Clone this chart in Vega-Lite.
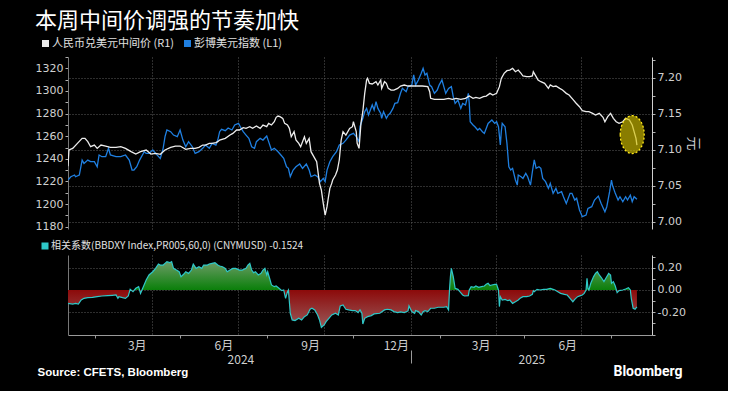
{
  "$schema": "https://vega.github.io/schema/vega-lite/v6.json",
  "background": "#000000",
  "padding": {"left": 35, "top": 10, "right": 28, "bottom": 13},
  "title": {"text": "本周中间价调强的节奏加快", "anchor": "start", "font": "Noto Sans CJK SC", "fontSize": 22, "fontWeight": "normal", "color": "#ffffff", "offset": 5},
  "config": {
    "view": {"stroke": null},
    "axis": {"labelFont": "DejaVu Sans", "labelFontSize": 11, "labelColor": "#d0d0d0", "tickColor": "#b0b0b0", "domainColor": "#8a8a8a", "labelOverlap": false, "labelFlush": false},
    "legend": {"orient": "none", "direction": "horizontal", "symbolType": "square", "symbolSize": 9, "symbolStrokeWidth": 4, "labelFont": "Noto Sans CJK SC", "labelFontSize": 11, "labelColor": "#e0e0e0", "labelOffset": 1, "labelLimit": 500, "columnPadding": 4, "padding": 0, "title": null}
  },
  "datasets": {
    "usd": [
      {"d":"2024-01-03","v":1221.3},{"d":"2024-01-06","v":1224.2},{"d":"2024-01-10","v":1225.7},{"d":"2024-01-11","v":1224.2},{"d":"2024-01-15","v":1225.7},{"d":"2024-01-18","v":1238.9},{"d":"2024-01-20","v":1236.0},{"d":"2024-01-24","v":1238.9},{"d":"2024-01-27","v":1237.5},{"d":"2024-01-31","v":1237.5},
      {"d":"2024-02-03","v":1233.0},{"d":"2024-02-05","v":1243.4},{"d":"2024-02-08","v":1241.9},{"d":"2024-02-12","v":1241.9},{"d":"2024-02-15","v":1249.3},{"d":"2024-02-17","v":1243.4},{"d":"2024-02-23","v":1241.9},{"d":"2024-02-28","v":1241.9},
      {"d":"2024-03-04","v":1243.4},{"d":"2024-03-08","v":1238.9},{"d":"2024-03-11","v":1230.1},{"d":"2024-03-13","v":1230.1},{"d":"2024-03-16","v":1233.0},{"d":"2024-03-19","v":1238.9},{"d":"2024-03-22","v":1243.4},{"d":"2024-03-24","v":1246.3},{"d":"2024-03-26","v":1244.8},{"d":"2024-03-29","v":1244.8},
      {"d":"2024-04-02","v":1247.8},{"d":"2024-04-05","v":1244.8},{"d":"2024-04-10","v":1240.4},{"d":"2024-04-13","v":1249.3},{"d":"2024-04-15","v":1259.6},{"d":"2024-04-17","v":1265.5},{"d":"2024-04-21","v":1264.0},{"d":"2024-04-24","v":1261.0},{"d":"2024-04-28","v":1259.6},
      {"d":"2024-05-01","v":1265.5},{"d":"2024-05-04","v":1256.6},{"d":"2024-05-07","v":1250.7},{"d":"2024-05-10","v":1255.2},{"d":"2024-05-14","v":1250.7},{"d":"2024-05-17","v":1244.8},{"d":"2024-05-21","v":1246.3},{"d":"2024-05-25","v":1249.3},{"d":"2024-05-28","v":1252.2},
      {"d":"2024-06-01","v":1249.3},{"d":"2024-06-04","v":1253.7},{"d":"2024-06-08","v":1252.2},{"d":"2024-06-10","v":1256.6},{"d":"2024-06-12","v":1264.0},{"d":"2024-06-14","v":1266.1},{"d":"2024-06-18","v":1264.9},{"d":"2024-06-21","v":1267.3},{"d":"2024-06-25","v":1265.5},{"d":"2024-06-28","v":1269.9},
      {"d":"2024-07-02","v":1271.3},{"d":"2024-07-04","v":1268.4},{"d":"2024-07-07","v":1264.0},{"d":"2024-07-10","v":1261.0},{"d":"2024-07-13","v":1258.1},{"d":"2024-07-16","v":1250.7},{"d":"2024-07-19","v":1249.3},{"d":"2024-07-21","v":1255.2},{"d":"2024-07-25","v":1258.1},{"d":"2024-07-28","v":1256.6},
      {"d":"2024-08-01","v":1260.2},{"d":"2024-08-03","v":1255.2},{"d":"2024-08-06","v":1247.8},{"d":"2024-08-09","v":1249.3},{"d":"2024-08-13","v":1246.3},{"d":"2024-08-16","v":1243.4},{"d":"2024-08-19","v":1240.4},{"d":"2024-08-22","v":1233.0},{"d":"2024-08-24","v":1231.6},{"d":"2024-08-26","v":1224.2},{"d":"2024-08-29","v":1230.1},
      {"d":"2024-09-01","v":1233.0},{"d":"2024-09-05","v":1235.4},{"d":"2024-09-08","v":1231.6},{"d":"2024-09-12","v":1235.4},{"d":"2024-09-15","v":1230.1},{"d":"2024-09-17","v":1224.2},{"d":"2024-09-21","v":1225.7},{"d":"2024-09-24","v":1224.2},{"d":"2024-09-27","v":1219.8},{"d":"2024-09-30","v":1222.7},
      {"d":"2024-10-02","v":1219.8},{"d":"2024-10-04","v":1230.1},{"d":"2024-10-07","v":1237.5},{"d":"2024-10-10","v":1241.9},{"d":"2024-10-14","v":1246.3},{"d":"2024-10-17","v":1252.2},{"d":"2024-10-21","v":1253.7},{"d":"2024-10-24","v":1256.6},{"d":"2024-10-28","v":1261.0},
      {"d":"2024-11-01","v":1262.5},{"d":"2024-11-04","v":1259.6},{"d":"2024-11-05","v":1258.1},{"d":"2024-11-07","v":1255.2},{"d":"2024-11-08","v":1268.4},{"d":"2024-11-11","v":1275.8},{"d":"2024-11-13","v":1281.7},{"d":"2024-11-15","v":1284.6},{"d":"2024-11-17","v":1278.7},{"d":"2024-11-19","v":1283.1},{"d":"2024-11-21","v":1287.6},{"d":"2024-11-23","v":1283.1},{"d":"2024-11-25","v":1290.5},{"d":"2024-11-27","v":1284.6},{"d":"2024-11-30","v":1280.2},
      {"d":"2024-12-01","v":1275.8},{"d":"2024-12-03","v":1281.7},{"d":"2024-12-06","v":1275.8},{"d":"2024-12-08","v":1278.7},{"d":"2024-12-10","v":1280.2},{"d":"2024-12-13","v":1284.6},{"d":"2024-12-15","v":1289.0},{"d":"2024-12-18","v":1289.6},{"d":"2024-12-21","v":1297.9},{"d":"2024-12-23","v":1302.3},{"d":"2024-12-27","v":1299.3},{"d":"2024-12-29","v":1303.8},
      {"d":"2025-01-02","v":1305.2},{"d":"2025-01-04","v":1314.1},{"d":"2025-01-06","v":1305.2},{"d":"2025-01-09","v":1309.7},{"d":"2025-01-12","v":1315.6},{"d":"2025-01-14","v":1320.0},{"d":"2025-01-16","v":1314.1},{"d":"2025-01-18","v":1315.6},{"d":"2025-01-21","v":1305.2},{"d":"2025-01-23","v":1303.8},{"d":"2025-01-26","v":1297.9},{"d":"2025-01-29","v":1300.8},{"d":"2025-01-31","v":1305.2},
      {"d":"2025-02-03","v":1309.7},{"d":"2025-02-05","v":1303.8},{"d":"2025-02-07","v":1297.9},{"d":"2025-02-10","v":1302.3},{"d":"2025-02-13","v":1303.8},{"d":"2025-02-15","v":1294.9},{"d":"2025-02-17","v":1289.0},{"d":"2025-02-20","v":1292.0},{"d":"2025-02-23","v":1284.6},{"d":"2025-02-25","v":1289.0},{"d":"2025-02-28","v":1287.6},
      {"d":"2025-03-03","v":1297.9},{"d":"2025-03-04","v":1289.0},{"d":"2025-03-05","v":1272.8},{"d":"2025-03-08","v":1269.9},{"d":"2025-03-10","v":1268.4},{"d":"2025-03-13","v":1265.5},{"d":"2025-03-15","v":1266.9},{"d":"2025-03-18","v":1264.0},{"d":"2025-03-20","v":1262.5},{"d":"2025-03-22","v":1266.9},{"d":"2025-03-24","v":1271.3},{"d":"2025-03-28","v":1274.3},{"d":"2025-03-31","v":1271.3},
      {"d":"2025-04-02","v":1272.8},{"d":"2025-04-04","v":1268.4},{"d":"2025-04-06","v":1252.2},{"d":"2025-04-07","v":1264.0},{"d":"2025-04-08","v":1271.3},{"d":"2025-04-11","v":1268.4},{"d":"2025-04-13","v":1253.7},{"d":"2025-04-15","v":1233.0},{"d":"2025-04-17","v":1230.1},{"d":"2025-04-19","v":1231.6},{"d":"2025-04-22","v":1221.3},{"d":"2025-04-24","v":1216.8},{"d":"2025-04-25","v":1225.7},{"d":"2025-04-28","v":1224.2},{"d":"2025-04-30","v":1222.7},
      {"d":"2025-05-03","v":1227.2},{"d":"2025-05-05","v":1224.2},{"d":"2025-05-08","v":1216.8},{"d":"2025-05-10","v":1228.6},{"d":"2025-05-12","v":1239.0},{"d":"2025-05-14","v":1231.6},{"d":"2025-05-17","v":1233.0},{"d":"2025-05-19","v":1231.6},{"d":"2025-05-21","v":1222.7},{"d":"2025-05-24","v":1219.8},{"d":"2025-05-27","v":1213.9},{"d":"2025-05-29","v":1218.3},
      {"d":"2025-06-01","v":1209.5},{"d":"2025-06-04","v":1213.9},{"d":"2025-06-06","v":1209.5},{"d":"2025-06-10","v":1211.0},{"d":"2025-06-12","v":1206.5},{"d":"2025-06-15","v":1200.6},{"d":"2025-06-19","v":1209.5},{"d":"2025-06-21","v":1209.5},{"d":"2025-06-24","v":1203.6},{"d":"2025-06-26","v":1205.1},{"d":"2025-06-29","v":1194.8},
      {"d":"2025-07-02","v":1188.9},{"d":"2025-07-06","v":1190.3},{"d":"2025-07-08","v":1196.2},{"d":"2025-07-12","v":1197.7},{"d":"2025-07-15","v":1203.6},{"d":"2025-07-19","v":1207.1},{"d":"2025-07-22","v":1200.6},{"d":"2025-07-26","v":1193.3},{"d":"2025-07-28","v":1197.7},{"d":"2025-07-31","v":1211.0},
      {"d":"2025-08-02","v":1221.3},{"d":"2025-08-03","v":1216.8},{"d":"2025-08-06","v":1209.5},{"d":"2025-08-09","v":1203.6},{"d":"2025-08-11","v":1206.5},{"d":"2025-08-14","v":1202.1},{"d":"2025-08-17","v":1206.5},{"d":"2025-08-19","v":1203.6},{"d":"2025-08-22","v":1208.0},{"d":"2025-08-24","v":1202.1},{"d":"2025-08-26","v":1206.5},{"d":"2025-08-29","v":1204.2}
    ],
    "cny": [
      {"d":"2024-01-03","v":7.0770},{"d":"2024-01-04","v":7.0996},{"d":"2024-01-08","v":7.1019},{"d":"2024-01-13","v":7.1089},{"d":"2024-01-18","v":7.1158},{"d":"2024-01-21","v":7.1158},{"d":"2024-01-24","v":7.1112},{"d":"2024-01-27","v":7.1042},{"d":"2024-01-31","v":7.1065},
      {"d":"2024-02-03","v":7.1019},{"d":"2024-02-07","v":7.1065},{"d":"2024-02-12","v":7.1051},{"d":"2024-02-17","v":7.1033},{"d":"2024-02-23","v":7.1033},{"d":"2024-02-28","v":7.1042},
      {"d":"2024-03-04","v":7.1019},{"d":"2024-03-10","v":7.0973},{"d":"2024-03-15","v":7.0940},{"d":"2024-03-20","v":7.0973},{"d":"2024-03-26","v":7.0996},{"d":"2024-03-31","v":7.0940},
      {"d":"2024-04-05","v":7.0950},{"d":"2024-04-10","v":7.0936},{"d":"2024-04-15","v":7.0996},{"d":"2024-04-21","v":7.1033},{"d":"2024-04-26","v":7.1051},
      {"d":"2024-05-01","v":7.1051},{"d":"2024-05-07","v":7.1005},{"d":"2024-05-12","v":7.1019},{"d":"2024-05-17","v":7.1019},{"d":"2024-05-21","v":7.1033},{"d":"2024-05-25","v":7.1065},{"d":"2024-05-28","v":7.1065},
      {"d":"2024-06-01","v":7.1089},{"d":"2024-06-04","v":7.1089},{"d":"2024-06-08","v":7.1098},{"d":"2024-06-10","v":7.1112},{"d":"2024-06-12","v":7.1135},{"d":"2024-06-18","v":7.1158},{"d":"2024-06-23","v":7.1204},{"d":"2024-06-26","v":7.1227},{"d":"2024-06-30","v":7.1274},
      {"d":"2024-07-03","v":7.1274},{"d":"2024-07-07","v":7.1306},{"d":"2024-07-10","v":7.1297},{"d":"2024-07-14","v":7.1320},{"d":"2024-07-17","v":7.1297},{"d":"2024-07-21","v":7.1329},{"d":"2024-07-25","v":7.1297},{"d":"2024-07-28","v":7.1343},
      {"d":"2024-08-01","v":7.1320},{"d":"2024-08-03","v":7.1366},{"d":"2024-08-06","v":7.1343},{"d":"2024-08-09","v":7.1389},{"d":"2024-08-11","v":7.1450},{"d":"2024-08-13","v":7.1468},{"d":"2024-08-15","v":7.1459},{"d":"2024-08-18","v":7.1436},{"d":"2024-08-20","v":7.1366},{"d":"2024-08-23","v":7.1343},{"d":"2024-08-25","v":7.1297},{"d":"2024-08-27","v":7.1181},{"d":"2024-08-30","v":7.1251},
      {"d":"2024-09-01","v":7.1135},{"d":"2024-09-04","v":7.1089},{"d":"2024-09-06","v":7.1042},{"d":"2024-09-10","v":7.1181},{"d":"2024-09-12","v":7.1089},{"d":"2024-09-15","v":7.1158},{"d":"2024-09-17","v":7.0973},{"d":"2024-09-21","v":7.0880},{"d":"2024-09-23","v":7.0834},{"d":"2024-09-26","v":7.0533},{"d":"2024-09-28","v":7.0440},{"d":"2024-09-30","v":7.0255},
      {"d":"2024-10-02","v":7.0093},{"d":"2024-10-04","v":7.0209},{"d":"2024-10-05","v":7.0301},{"d":"2024-10-07","v":7.0463},{"d":"2024-10-09","v":7.0533},{"d":"2024-10-10","v":7.0579},{"d":"2024-10-13","v":7.0649},{"d":"2024-10-15","v":7.0718},{"d":"2024-10-17","v":7.0857},{"d":"2024-10-19","v":7.1135},{"d":"2024-10-21","v":7.1251},{"d":"2024-10-24","v":7.1204},{"d":"2024-10-28","v":7.1297},{"d":"2024-10-31","v":7.1320},
      {"d":"2024-11-01","v":7.1389},{"d":"2024-11-04","v":7.1251},{"d":"2024-11-05","v":7.1089},{"d":"2024-11-07","v":7.1019},{"d":"2024-11-09","v":7.1366},{"d":"2024-11-11","v":7.1528},{"d":"2024-11-13","v":7.1783},{"d":"2024-11-15","v":7.1968},{"d":"2024-11-16","v":7.1991},{"d":"2024-11-18","v":7.1922},{"d":"2024-11-21","v":7.1913},{"d":"2024-11-25","v":7.1945},{"d":"2024-11-27","v":7.1899},{"d":"2024-11-30","v":7.1968},
      {"d":"2024-12-01","v":7.1852},{"d":"2024-12-04","v":7.1945},{"d":"2024-12-06","v":7.1922},{"d":"2024-12-08","v":7.1852},{"d":"2024-12-11","v":7.1829},{"d":"2024-12-14","v":7.1829},{"d":"2024-12-18","v":7.1852},{"d":"2024-12-21","v":7.1885},{"d":"2024-12-25","v":7.1899},{"d":"2024-12-29","v":7.1885},
      {"d":"2025-01-03","v":7.1885},{"d":"2025-01-08","v":7.1885},{"d":"2025-01-13","v":7.1885},{"d":"2025-01-19","v":7.1876},{"d":"2025-01-21","v":7.1806},{"d":"2025-01-22","v":7.1714},{"d":"2025-01-26","v":7.1700},{"d":"2025-01-31","v":7.1700},
      {"d":"2025-02-05","v":7.1700},{"d":"2025-02-10","v":7.1714},{"d":"2025-02-14","v":7.1700},{"d":"2025-02-18","v":7.1714},{"d":"2025-02-23","v":7.1700},{"d":"2025-02-28","v":7.1714},
      {"d":"2025-03-04","v":7.1746},{"d":"2025-03-08","v":7.1714},{"d":"2025-03-11","v":7.1727},{"d":"2025-03-15","v":7.1714},{"d":"2025-03-19","v":7.1737},{"d":"2025-03-22","v":7.1746},{"d":"2025-03-26","v":7.1783},{"d":"2025-03-29","v":7.1760},
      {"d":"2025-04-02","v":7.1783},{"d":"2025-04-05","v":7.1876},{"d":"2025-04-07","v":7.1991},{"d":"2025-04-10","v":7.2061},{"d":"2025-04-13","v":7.2098},{"d":"2025-04-16","v":7.2107},{"d":"2025-04-19","v":7.2130},{"d":"2025-04-22","v":7.2084},{"d":"2025-04-25","v":7.2107},{"d":"2025-04-28","v":7.2061},{"d":"2025-04-30","v":7.2024},
      {"d":"2025-05-04","v":7.2015},{"d":"2025-05-07","v":7.2015},{"d":"2025-05-10","v":7.2024},{"d":"2025-05-11","v":7.2084},{"d":"2025-05-14","v":7.2015},{"d":"2025-05-16","v":7.1968},{"d":"2025-05-19","v":7.1945},{"d":"2025-05-23","v":7.1922},{"d":"2025-05-27","v":7.1852},{"d":"2025-05-29","v":7.1899},
      {"d":"2025-06-01","v":7.1876},{"d":"2025-06-04","v":7.1885},{"d":"2025-06-08","v":7.1852},{"d":"2025-06-11","v":7.1829},{"d":"2025-06-15","v":7.1783},{"d":"2025-06-18","v":7.1760},{"d":"2025-06-22","v":7.1700},{"d":"2025-06-25","v":7.1653},{"d":"2025-06-29","v":7.1598},
      {"d":"2025-07-02","v":7.1542},{"d":"2025-07-06","v":7.1528},{"d":"2025-07-09","v":7.1528},{"d":"2025-07-13","v":7.1505},{"d":"2025-07-16","v":7.1482},{"d":"2025-07-20","v":7.1505},{"d":"2025-07-24","v":7.1450},{"d":"2025-07-26","v":7.1389},{"d":"2025-07-29","v":7.1459},
      {"d":"2025-08-01","v":7.1505},{"d":"2025-08-04","v":7.1436},{"d":"2025-08-07","v":7.1389},{"d":"2025-08-10","v":7.1366},{"d":"2025-08-14","v":7.1389},{"d":"2025-08-17","v":7.1436},{"d":"2025-08-21","v":7.1413},{"d":"2025-08-24","v":7.1343},{"d":"2025-08-26","v":7.1251},{"d":"2025-08-28","v":7.1158},{"d":"2025-08-29","v":7.1065}
    ],
    "corr": [
      {"d":"2024-01-03","v":-0.120},{"d":"2024-01-08","v":-0.126},{"d":"2024-01-11","v":-0.120},{"d":"2024-01-14","v":-0.126},{"d":"2024-01-17","v":-0.090},{"d":"2024-01-20","v":-0.075},{"d":"2024-01-24","v":-0.069},{"d":"2024-01-29","v":-0.066},
      {"d":"2024-02-03","v":-0.060},{"d":"2024-02-08","v":-0.054},{"d":"2024-02-14","v":-0.051},{"d":"2024-02-19","v":-0.048},{"d":"2024-02-23","v":-0.045},{"d":"2024-02-25","v":-0.075},{"d":"2024-02-26","v":-0.060},
      {"d":"2024-03-01","v":-0.069},{"d":"2024-03-04","v":-0.075},{"d":"2024-03-07","v":-0.054},{"d":"2024-03-09","v":0.006},{"d":"2024-03-12","v":-0.015},{"d":"2024-03-15","v":0.015},{"d":"2024-03-18","v":0.030},{"d":"2024-03-20","v":-0.030},{"d":"2024-03-23","v":0.030},{"d":"2024-03-26","v":0.090},{"d":"2024-03-29","v":0.135},
      {"d":"2024-04-02","v":0.164},{"d":"2024-04-05","v":0.194},{"d":"2024-04-08","v":0.233},{"d":"2024-04-10","v":0.224},{"d":"2024-04-13","v":0.224},{"d":"2024-04-15","v":0.239},{"d":"2024-04-17","v":0.254},{"d":"2024-04-20","v":0.245},{"d":"2024-04-22","v":0.254},{"d":"2024-04-24","v":0.194},{"d":"2024-04-27","v":0.179},{"d":"2024-04-30","v":0.164},
      {"d":"2024-05-02","v":0.120},{"d":"2024-05-05","v":0.143},{"d":"2024-05-07","v":0.164},{"d":"2024-05-10","v":0.149},{"d":"2024-05-13","v":0.179},{"d":"2024-05-15","v":0.233},{"d":"2024-05-18","v":0.194},{"d":"2024-05-21","v":0.209},{"d":"2024-05-24","v":0.194},{"d":"2024-05-26","v":0.224},{"d":"2024-05-30","v":0.224},
      {"d":"2024-06-01","v":0.233},{"d":"2024-06-04","v":0.239},{"d":"2024-06-07","v":0.245},{"d":"2024-06-10","v":0.224},{"d":"2024-06-12","v":0.215},{"d":"2024-06-15","v":0.209},{"d":"2024-06-18","v":0.194},{"d":"2024-06-20","v":0.164},{"d":"2024-06-23","v":0.179},{"d":"2024-06-26","v":0.194},{"d":"2024-06-29","v":0.194},
      {"d":"2024-07-03","v":0.179},{"d":"2024-07-06","v":0.179},{"d":"2024-07-10","v":0.194},{"d":"2024-07-12","v":0.224},{"d":"2024-07-14","v":0.239},{"d":"2024-07-16","v":0.179},{"d":"2024-07-18","v":0.155},{"d":"2024-07-20","v":0.164},{"d":"2024-07-23","v":0.135},{"d":"2024-07-26","v":0.149},{"d":"2024-07-28","v":0.179},{"d":"2024-07-30","v":0.194},
      {"d":"2024-08-01","v":0.135},{"d":"2024-08-02","v":0.164},{"d":"2024-08-04","v":0.105},{"d":"2024-08-06","v":0.045},{"d":"2024-08-09","v":0.030},{"d":"2024-08-11","v":0.036},{"d":"2024-08-14","v":0.015},{"d":"2024-08-17","v":-0.006},{"d":"2024-08-19","v":0.000},{"d":"2024-08-21","v":-0.075},{"d":"2024-08-23","v":-0.015},{"d":"2024-08-24","v":0.000},{"d":"2024-08-26","v":-0.209},{"d":"2024-08-28","v":-0.269},{"d":"2024-08-31","v":-0.275},
      {"d":"2024-09-04","v":-0.254},{"d":"2024-09-07","v":-0.269},{"d":"2024-09-10","v":-0.239},{"d":"2024-09-13","v":-0.224},{"d":"2024-09-16","v":-0.173},{"d":"2024-09-18","v":-0.164},{"d":"2024-09-21","v":-0.179},{"d":"2024-09-24","v":-0.224},{"d":"2024-09-26","v":-0.269},{"d":"2024-09-28","v":-0.335},
      {"d":"2024-10-01","v":-0.314},{"d":"2024-10-03","v":-0.284},{"d":"2024-10-06","v":-0.254},{"d":"2024-10-09","v":-0.224},{"d":"2024-10-13","v":-0.209},{"d":"2024-10-16","v":-0.224},{"d":"2024-10-18","v":-0.143},{"d":"2024-10-21","v":-0.135},{"d":"2024-10-24","v":-0.173},{"d":"2024-10-27","v":-0.179},{"d":"2024-10-31","v":-0.185},
      {"d":"2024-11-03","v":-0.185},{"d":"2024-11-06","v":-0.203},{"d":"2024-11-08","v":-0.179},{"d":"2024-11-10","v":-0.209},{"d":"2024-11-11","v":-0.305},{"d":"2024-11-13","v":-0.254},{"d":"2024-11-16","v":-0.239},{"d":"2024-11-20","v":-0.230},{"d":"2024-11-23","v":-0.215},{"d":"2024-11-29","v":-0.209},
      {"d":"2024-12-04","v":-0.179},{"d":"2024-12-07","v":-0.173},{"d":"2024-12-11","v":-0.179},{"d":"2024-12-14","v":-0.194},{"d":"2024-12-18","v":-0.203},{"d":"2024-12-21","v":-0.197},{"d":"2024-12-25","v":-0.203},{"d":"2024-12-29","v":-0.188},{"d":"2024-12-30","v":-0.143},
      {"d":"2025-01-02","v":-0.194},{"d":"2025-01-05","v":-0.209},{"d":"2025-01-06","v":-0.185},{"d":"2025-01-09","v":-0.194},{"d":"2025-01-12","v":-0.224},{"d":"2025-01-14","v":-0.194},{"d":"2025-01-16","v":-0.185},{"d":"2025-01-19","v":-0.194},{"d":"2025-01-22","v":-0.164},{"d":"2025-01-26","v":-0.164},{"d":"2025-01-30","v":-0.155},
      {"d":"2025-02-02","v":-0.155},{"d":"2025-02-05","v":-0.155},{"d":"2025-02-08","v":-0.149},{"d":"2025-02-10","v":-0.179},{"d":"2025-02-11","v":0.000},{"d":"2025-02-12","v":0.120},{"d":"2025-02-13","v":0.194},{"d":"2025-02-15","v":0.120},{"d":"2025-02-17","v":0.015},{"d":"2025-02-20","v":0.006},{"d":"2025-02-22","v":-0.015},{"d":"2025-02-25","v":-0.045},{"d":"2025-02-27","v":-0.054},
      {"d":"2025-03-03","v":-0.051},{"d":"2025-03-04","v":0.000},{"d":"2025-03-06","v":0.030},{"d":"2025-03-09","v":0.024},{"d":"2025-03-11","v":0.036},{"d":"2025-03-14","v":0.024},{"d":"2025-03-17","v":0.030},{"d":"2025-03-20","v":0.036},{"d":"2025-03-22","v":0.051},{"d":"2025-03-24","v":0.060},{"d":"2025-03-26","v":0.039},{"d":"2025-03-28","v":0.045},{"d":"2025-03-31","v":0.051},
      {"d":"2025-04-02","v":0.051},{"d":"2025-04-04","v":0.000},{"d":"2025-04-05","v":-0.149},{"d":"2025-04-06","v":-0.060},{"d":"2025-04-08","v":-0.090},{"d":"2025-04-11","v":-0.084},{"d":"2025-04-14","v":-0.096},{"d":"2025-04-16","v":-0.090},{"d":"2025-04-19","v":-0.120},{"d":"2025-04-22","v":-0.105},{"d":"2025-04-25","v":-0.090},{"d":"2025-04-27","v":-0.075},{"d":"2025-04-30","v":-0.060},
      {"d":"2025-05-04","v":-0.060},{"d":"2025-05-07","v":-0.054},{"d":"2025-05-10","v":-0.039},{"d":"2025-05-11","v":-0.006},{"d":"2025-05-12","v":-0.015},{"d":"2025-05-15","v":0.006},{"d":"2025-05-18","v":0.000},{"d":"2025-05-22","v":0.006},{"d":"2025-05-25","v":0.006},{"d":"2025-05-29","v":0.015},
      {"d":"2025-06-01","v":0.006},{"d":"2025-06-03","v":0.000},{"d":"2025-06-06","v":-0.015},{"d":"2025-06-09","v":-0.030},{"d":"2025-06-13","v":-0.039},{"d":"2025-06-16","v":-0.045},{"d":"2025-06-19","v":-0.075},{"d":"2025-06-22","v":-0.105},{"d":"2025-06-24","v":-0.084},{"d":"2025-06-27","v":-0.060},{"d":"2025-06-30","v":-0.051},
      {"d":"2025-07-02","v":-0.045},{"d":"2025-07-04","v":-0.030},{"d":"2025-07-06","v":0.000},{"d":"2025-07-07","v":0.105},{"d":"2025-07-08","v":0.015},{"d":"2025-07-09","v":0.000},{"d":"2025-07-11","v":0.060},{"d":"2025-07-14","v":0.120},{"d":"2025-07-16","v":0.149},{"d":"2025-07-18","v":0.164},{"d":"2025-07-20","v":0.135},{"d":"2025-07-22","v":0.114},{"d":"2025-07-25","v":0.075},{"d":"2025-07-27","v":0.105},{"d":"2025-07-30","v":0.149},
      {"d":"2025-08-01","v":0.135},{"d":"2025-08-02","v":0.060},{"d":"2025-08-04","v":0.075},{"d":"2025-08-06","v":0.036},{"d":"2025-08-08","v":-0.024},{"d":"2025-08-10","v":-0.006},{"d":"2025-08-14","v":0.000},{"d":"2025-08-17","v":0.009},{"d":"2025-08-20","v":0.021},{"d":"2025-08-22","v":0.000},{"d":"2025-08-23","v":-0.075},{"d":"2025-08-25","v":-0.164},{"d":"2025-08-27","v":-0.173},{"d":"2025-08-29","v":-0.152}
    ],
    "hl": [{"d":"2025-08-24","v":7.121}]
  },
  "spacing": 26,
  "bounds": "flush",
  "resolve": {"scale": {"x": "independent", "y": "independent", "color": "independent"}, "legend": {"color": "independent"}},
  "vconcat": [
    {
      "width": 584,
      "height": 172,
      "encoding": {
        "x": {
          "field": "d", "type": "temporal",
          "scale": {"type": "utc", "nice": false, "domain": [{"year":2024,"month":1,"date":3,"utc":true},{"year":2025,"month":9,"date":14,"utc":true}]},
          "axis": {
            "values": [{"year":2024,"month":4,"date":1,"utc":true},{"year":2024,"month":7,"date":1,"utc":true},{"year":2024,"month":10,"date":1,"utc":true},{"year":2025,"month":1,"date":1,"utc":true},{"year":2025,"month":4,"date":1,"utc":true},{"year":2025,"month":7,"date":1,"utc":true}],
            "labels": false, "ticks": false, "grid": true, "gridColor": "#5c5c5c", "gridDash": [1, 2],
            "domain": false, "title": null
          }
        }
      },
      "layer": [
        {
          "mark": {"type": "rule", "color": "#5e5e5e", "strokeWidth": 3},
          "encoding": {
            "x": {"datum": {"year":2023,"month":11,"date":29,"utc":true}},
            "x2": {"datum": {"year":2025,"month":11,"date":4,"utc":true}},
            "y": {"datum": 1178, "type": "quantitative", "scale": {"domain": [1178, 1330], "nice": false, "zero": false}, "axis": null}
          }
        },
        {
          "data": {"name": "usd"},
          "mark": {"type": "line", "strokeWidth": 1.3, "clip": true},
          "encoding": {
            "y": {
              "field": "v", "type": "quantitative",
              "scale": {"domain": [1178, 1330], "nice": false, "zero": false},
              "axis": {
                "orient": "left",
                "values": [1180,1190,1200,1210,1220,1230,1240,1250,1260,1270,1280,1290,1300,1310,1320,1330],
                "labelExpr": "datum.value % 20 == 0 ? format(datum.value, 'd') : ''",
                "grid": false, "tickSize": 3, "labelPadding": 2, "domainColor": "#777777", "title": null
              }
            },
            "color": {
              "datum": "彭博美元指数 (L1)",
              "scale": {"domain": ["人民币兑美元中间价 (R1)", "彭博美元指数 (L1)"], "range": ["#ececec", "#1f7fe0"]},
              "legend": {"legendX": -28, "legendY": -19}
            }
          }
        },
        {
          "data": {"name": "cny"},
          "mark": {"type": "line", "strokeWidth": 1.3, "clip": true},
          "encoding": {
            "y": {
              "field": "v", "type": "quantitative",
              "scale": {"domain": [6.9899, 7.2288], "nice": false, "zero": false},
              "axis": {
                "orient": "right",
                "values": [7.0, 7.025, 7.05, 7.075, 7.1, 7.125, 7.15, 7.175, 7.2, 7.225],
                "labelExpr": "abs(datum.value * 20 - round(datum.value * 20)) < 0.01 ? format(datum.value, '.2f') : ''",
                "grid": true, "gridColor": "#5c5c5c", "gridDash": [1, 2],
                "gridOpacity": {"condition": {"test": "abs(datum.value * 20 - round(datum.value * 20)) < 0.01", "value": 1}, "value": 0},
                "tickSize": 3, "labelPadding": 2, "domainColor": "#cfcfcf",
                "title": "元", "titleFont": "Noto Sans CJK SC", "titleFontSize": 14, "titleFontWeight": "normal", "titleColor": "#cfcfcf", "titlePadding": 4
              }
            },
            "color": {"datum": "人民币兑美元中间价 (R1)"}
          }
        },
        {
          "data": {"name": "hl"},
          "mark": {
            "type": "point",
            "shape": "M -0.63 0 A 0.63 1 0 1 0 0.63 0 A 0.63 1 0 1 0 -0.63 0 Z",
            "size": 1444, "filled": true, "fill": "#d2c000", "fillOpacity": 0.65,
            "stroke": "#ffe81a", "strokeWidth": 1.3, "strokeDash": [2, 2], "strokeOpacity": 1, "opacity": 1
          },
          "encoding": {
            "y": {"field": "v", "type": "quantitative", "scale": {"domain": [6.9899, 7.2288], "nice": false, "zero": false}, "axis": null}
          }
        }
      ],
      "resolve": {"scale": {"y": "independent"}}
    },
    {
      "width": 584,
      "height": 80,
      "encoding": {
        "x": {
          "field": "d", "type": "temporal",
          "scale": {"type": "utc", "nice": false, "domain": [{"year":2024,"month":1,"date":3,"utc":true},{"year":2025,"month":9,"date":14,"utc":true}]},
          "axis": {
            "values": [
              {"year":2024,"month":2,"date":1,"utc":true},{"year":2024,"month":3,"date":16,"utc":true},{"year":2024,"month":4,"date":1,"utc":true},{"year":2024,"month":5,"date":1,"utc":true},{"year":2024,"month":6,"date":16,"utc":true},{"year":2024,"month":7,"date":1,"utc":true},{"year":2024,"month":7,"date":4,"utc":true},{"year":2024,"month":8,"date":1,"utc":true},{"year":2024,"month":9,"date":16,"utc":true},{"year":2024,"month":10,"date":1,"utc":true},{"year":2024,"month":11,"date":1,"utc":true},{"year":2024,"month":12,"date":16,"utc":true},
              {"year":2025,"month":1,"date":1,"utc":true},{"year":2025,"month":2,"date":1,"utc":true},{"year":2025,"month":3,"date":16,"utc":true},{"year":2025,"month":4,"date":1,"utc":true},{"year":2025,"month":5,"date":1,"utc":true},{"year":2025,"month":5,"date":9,"utc":true},{"year":2025,"month":6,"date":16,"utc":true},{"year":2025,"month":7,"date":1,"utc":true},{"year":2025,"month":8,"date":1,"utc":true}
            ],
            "labelExpr": "utcdate(datum.value) == 16 ? utcFormat(datum.value, '%-m月') : ((utcdate(datum.value) == 4 || utcdate(datum.value) == 9) ? utcFormat(datum.value, '%Y') : '')",
            "labelFont": "Noto Sans CJK SC", "labelFontSize": 12, "labelColor": "#cfcfcf",
            "labelPadding": {"condition": {"test": "utcdate(datum.value) == 4 || utcdate(datum.value) == 9", "value": 16}, "value": 2},
            "grid": true, "gridColor": "#5c5c5c", "gridDash": [1, 2],
            "gridOpacity": {"condition": {"test": "utcdate(datum.value) == 1 && utcmonth(datum.value) % 3 == 0", "value": 1}, "value": 0},
            "tickOpacity": {"condition": {"test": "utcdate(datum.value) == 1 && (utcmonth(datum.value) % 3 == 1 || utcmonth(datum.value) == 0)", "value": 1}, "value": 0},
            "tickSize": {"condition": {"test": "utcdate(datum.value) == 1 && utcmonth(datum.value) == 0", "value": 28}, "value": 3},
            "tickDash": {"condition": {"test": "utcdate(datum.value) == 1 && utcmonth(datum.value) == 0", "value": [0, 15, 13, 0]}, "value": []},
            "tickColor": "#9a9a9a",
            "domainColor": "#9a9a9a",
            "title": "Bloomberg", "titleX": 614, "titleY": 36, "titleAlign": "right", "titleBaseline": "middle",
            "titleFont": "Roboto", "titleFontWeight": "bold", "titleFontSize": 14, "titleColor": "#ffffff"
          }
        }
      },
      "layer": [
        {
          "data": {"name": "corr"},
          "mark": {
            "type": "area", "clip": true,
            "color": {"gradient": "linear", "x1": 0, "y1": 0, "x2": 0, "y2": 1, "stops": [{"offset": 0, "color": "#6c9c66"}, {"offset": 0.4312, "color": "#0a7f0a"}, {"offset": 0.4312, "color": "#8c0a0a"}, {"offset": 1, "color": "#9a5858"}]}
          },
          "encoding": {
            "y": {
              "field": "v", "type": "quantitative",
              "scale": {"domain": [-0.404, 0.314], "nice": false, "zero": false},
              "axis": {
                "orient": "left", "labels": false, "ticks": false, "grid": false, "domainColor": "#777777",
                "title": "Source: CFETS, Bloomberg", "titleAngle": 0, "titleX": -31, "titleY": 117, "titleAlign": "left", "titleBaseline": "middle",
                "titleFont": "Liberation Sans", "titleFontWeight": "bold", "titleFontSize": 11.5, "titleColor": "#ffffff"
              }
            },
            "y2": {"datum": 0}
          }
        },
        {
          "data": {"name": "corr"},
          "mark": {"type": "line", "strokeWidth": 1.2, "clip": true},
          "encoding": {
            "y": {
              "field": "v", "type": "quantitative",
              "scale": {"domain": [-0.404, 0.314], "nice": false, "zero": false},
              "axis": {
                "orient": "right",
                "values": [-0.4, -0.3, -0.2, -0.1, 0, 0.1, 0.2, 0.3],
                "labelExpr": "(abs(datum.value) < 0.25 && abs(datum.value * 5 - round(datum.value * 5)) < 0.01) ? replace(format(datum.value, '.2f'), '−', '-') : ''",
                "grid": true, "gridColor": "#5c5c5c", "gridDash": [1, 2],
                "gridOpacity": {"condition": {"test": "abs(datum.value) < 0.25 && abs(datum.value * 5 - round(datum.value * 5)) < 0.01", "value": 1}, "value": 0},
                "tickSize": 3, "labelPadding": 2, "domainColor": "#cfcfcf", "title": null
              }
            },
            "color": {
              "datum": "相关系数(BBDXY Index,PR005,60,0) (CNYMUSD) -0.1524",
              "scale": {"range": ["#2ec8c8"]},
              "legend": {"legendX": -28, "legendY": -14, "labelFontSize": 10}
            }
          }
        }
      ],
      "resolve": {"axis": {"y": "independent"}}
    }
  ]
}
